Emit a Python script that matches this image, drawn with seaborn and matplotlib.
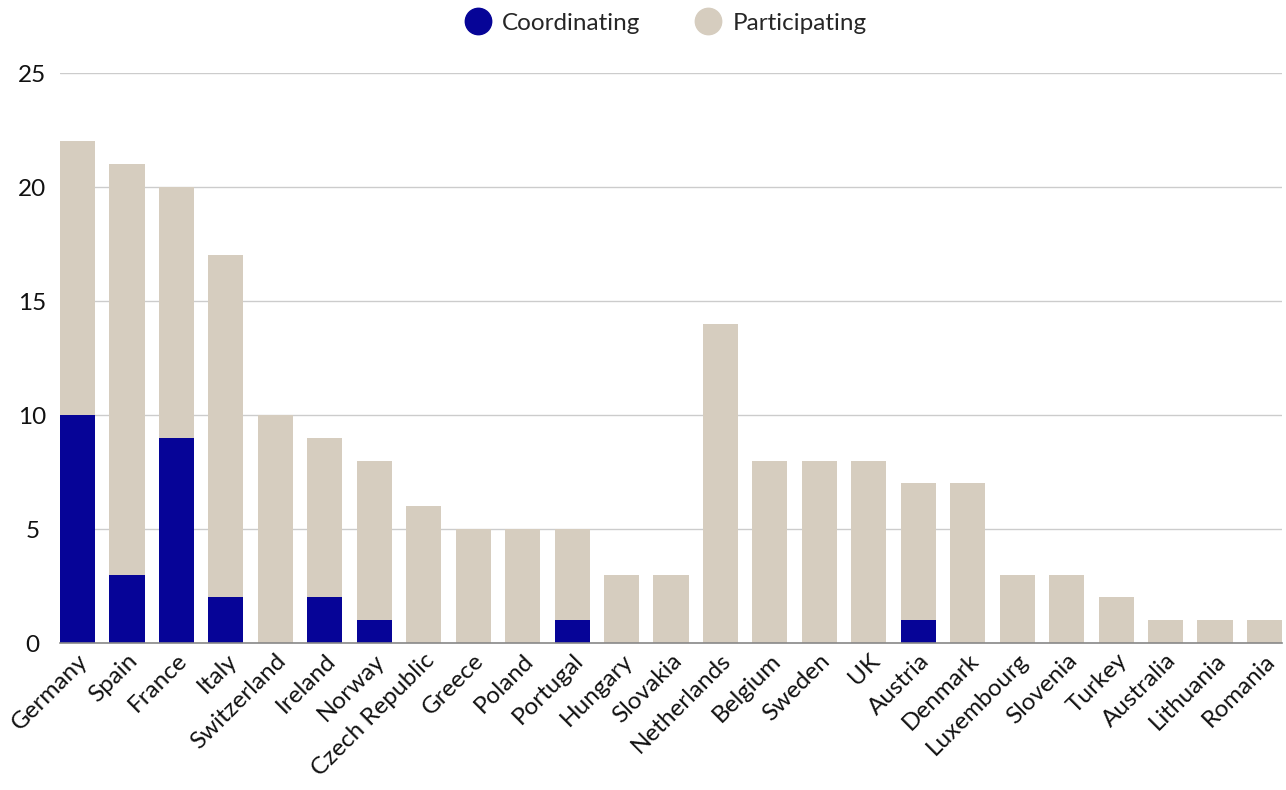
import matplotlib
matplotlib.use("Agg")
import matplotlib.pyplot as plt
from matplotlib.lines import Line2D
import seaborn as sns
import pandas as pd

countries = ["Germany", "Spain", "France", "Italy", "Switzerland", "Ireland", "Norway",
             "Czech Republic", "Greece", "Poland", "Portugal", "Hungary", "Slovakia",
             "Netherlands", "Belgium", "Sweden", "UK", "Austria", "Denmark", "Luxembourg",
             "Slovenia", "Turkey", "Australia", "Lithuania", "Romania"]
coordinating = [10, 3, 9, 2, 0, 2, 1, 0, 0, 0, 1, 0, 0, 0, 0, 0, 0, 1, 0, 0, 0, 0, 0, 0, 0]
participating = [12, 18, 11, 15, 10, 7, 7, 6, 5, 5, 4, 3, 3, 14, 8, 8, 8, 6, 7, 3, 3, 2, 1, 1, 1]

BLUE = "#060497"
BEIGE = "#d6cdbf"

sns.set_theme(style="white")
plt.rcParams["font.family"] = ["Lato", "DejaVu Sans"]

df = pd.DataFrame({"country": countries, "coord": coordinating, "part": participating})
df["total"] = df["coord"] + df["part"]

fig = plt.figure(figsize=(12.86, 7.90), dpi=100)
ax = fig.add_axes([60 / 1286, 1 - 643 / 790, 1222 / 1286, (643 - 73) / 790])

bar_w = 0.71
# totals first (participating on top), coordinating drawn over the base
sns.barplot(data=df, x="country", y="total", color=BEIGE, width=bar_w,
            saturation=1, ax=ax, edgecolor="none")
sns.barplot(data=df, x="country", y="coord", color=BLUE, width=bar_w,
            saturation=1, ax=ax, edgecolor="none")

ax.set_ylim(0, 25)
ax.set_xlim(-bar_w / 2, len(countries) - 1 + bar_w / 2)
ax.set_yticks([0, 5, 10, 15, 20, 25])
ax.yaxis.grid(True, color="#cccccc", linewidth=1)
ax.set_axisbelow(True)
for s in ["top", "right", "left"]:
    ax.spines[s].set_visible(False)
ax.spines["bottom"].set_color("#888888")
ax.spines["bottom"].set_linewidth(1.2)
ax.set_xlabel("")
ax.set_ylabel("")
ax.tick_params(axis="y", length=0, labelsize=17.5, pad=20, colors="#111111")
ax.tick_params(axis="x", length=0, labelsize=17.5, pad=5, colors="#111111")
plt.setp(ax.get_xticklabels(), rotation=45, ha="right", rotation_mode="anchor")
for lab in ax.get_yticklabels():
    lab.set_horizontalalignment("center")

handles = [Line2D([], [], marker="o", linestyle="", markersize=19, color=BLUE, label="Coordinating"),
           Line2D([], [], marker="o", linestyle="", markersize=19, color=BEIGE, label="Participating")]
fig.legend(handles=handles, loc="center", bbox_to_anchor=(665 / 1286, 1 - 23 / 790), ncol=2,
           frameon=False, fontsize=17.5, handletextpad=0.4, columnspacing=2.2,
           handlelength=1.2)

fig.savefig("out.png", dpi=100)
